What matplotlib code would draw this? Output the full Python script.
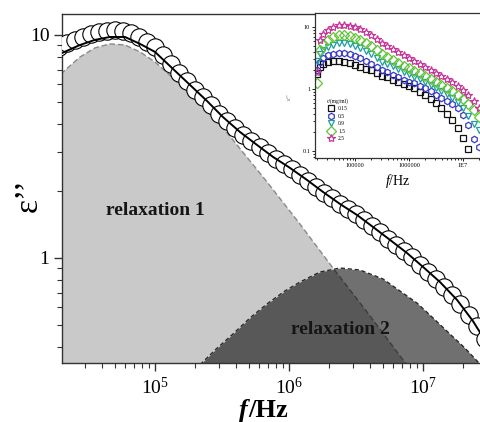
import numpy as np
import matplotlib
matplotlib.use("Agg")
import matplotlib.pyplot as plt
from matplotlib.ticker import LogLocator, LogFormatterMathtext, NullFormatter, FuncFormatter

plt.rcParams["font.family"] = ["Liberation Serif", "DejaVu Serif"]
plt.rcParams["mathtext.fontset"] = "custom"
plt.rcParams["mathtext.rm"] = "Liberation Serif"
plt.rcParams["mathtext.it"] = "Liberation Serif:italic"
plt.rcParams["mathtext.bf"] = "Liberation Serif:bold"

# ---------------------------------------------------------------- data (log10 values)
# measured points (open circles)
data_logf = [4.28, 4.34, 4.40, 4.46, 4.52, 4.58, 4.64, 4.70, 4.76, 4.82, 4.88, 4.94,
             5.00, 5.06, 5.12, 5.18, 5.24, 5.30, 5.36, 5.42, 5.48, 5.54, 5.60, 5.66,
             5.72, 5.78, 5.84, 5.90, 5.96, 6.02, 6.08, 6.14, 6.20, 6.26, 6.32, 6.38,
             6.44, 6.50, 6.56, 6.62, 6.68, 6.74, 6.80, 6.86, 6.92, 6.98, 7.04, 7.10,
             7.16, 7.22, 7.28, 7.34, 7.40, 7.46]
data_loge = [0.945, 0.963, 0.978, 0.992, 1.003, 1.012, 1.018, 1.021, 1.020, 1.008, 0.992, 0.970,
             0.948, 0.910, 0.870, 0.830, 0.792, 0.755, 0.720, 0.685, 0.646, 0.614, 0.583, 0.553,
             0.526, 0.499, 0.471, 0.446, 0.422, 0.398, 0.373, 0.347, 0.320, 0.293, 0.268, 0.242,
             0.219, 0.196, 0.170, 0.142, 0.115, 0.087, 0.060, 0.032, 0.003, -0.030, -0.062, -0.094,
             -0.128, -0.166, -0.207, -0.255, -0.305, -0.365]

# total fit (solid line)
fit_logf = [4.306, 4.440, 4.552, 4.664, 4.776, 4.888, 5.000, 5.134, 5.261, 5.388, 5.507,
            5.634, 5.761, 5.881, 6.007, 6.134, 6.254, 6.381, 6.507, 6.627, 6.754, 6.881,
            7.000, 7.127, 7.254, 7.373, 7.433, 7.48]
fit_loge = [0.919, 0.955, 0.978, 0.991, 0.991, 0.960, 0.924, 0.848, 0.776, 0.704, 0.632,
            0.565, 0.507, 0.453, 0.404, 0.350, 0.296, 0.242, 0.193, 0.139, 0.081, 0.022,
            -0.040, -0.108, -0.188, -0.283, -0.341, -0.39]

# relaxation 1
r1_logf = [4.25, 4.306, 4.440, 4.552, 4.664, 4.776, 4.888, 5.000, 5.134, 5.261, 5.388,
           5.507, 5.582, 5.836, 6.082, 6.328, 6.582, 6.828, 6.978]
r1_loge = [0.80, 0.830, 0.901, 0.942, 0.960, 0.955, 0.924, 0.879, 0.807, 0.735, 0.659,
           0.583, 0.529, 0.341, 0.152, -0.045, -0.242, -0.439, -0.556]

# relaxation 2
r2_logf = [5.30, 5.358, 5.448, 5.582, 5.709, 5.836, 5.970, 6.082, 6.231, 6.381, 6.530,
           6.701, 6.828, 6.955, 7.075, 7.201, 7.313, 7.410, 7.47]
r2_loge = [-0.50, -0.466, -0.413, -0.341, -0.269, -0.206, -0.148, -0.108, -0.063, -0.045, -0.054,
           -0.094, -0.148, -0.202, -0.269, -0.341, -0.404, -0.466, -0.50]

# inset: c/(mg/ml) series
ins_logf = [4.30, 4.35, 4.40, 4.50, 4.60, 4.70, 4.80, 4.90, 5.00, 5.10, 5.20, 5.30, 5.40,
            5.50, 5.60, 5.70, 5.80, 5.90, 6.00, 6.10, 6.20, 6.30, 6.40, 6.50, 6.60, 6.70,
            6.80, 6.90, 7.00, 7.10, 7.20, 7.30]
conc_labels = ["0.15", "0.5", "0.9", "1.5", "2.5"]
ins_c015 = [0.25, 0.35, 0.40, 0.44, 0.45, 0.45, 0.44, 0.42, 0.39, 0.36, 0.33, 0.30, 0.26,
            0.21, 0.19, 0.15, 0.12, 0.08, 0.05, 0.01, -0.05, -0.10, -0.16, -0.23, -0.31, -0.40,
            -0.50, -0.63, -0.79, -0.97]
ins_c05 = [0.31, 0.44, 0.50, 0.55, 0.56, 0.58, 0.58, 0.56, 0.53, 0.50, 0.45, 0.40, 0.35,
           0.31, 0.27, 0.23, 0.19, 0.15, 0.12, 0.09, 0.05, 0.01, -0.04, -0.09, -0.14, -0.19,
           -0.24, -0.31, -0.42, -0.58, -0.80, -0.94]
ins_c09 = [0.45, 0.56, 0.63, 0.68, 0.71, 0.74, 0.74, 0.73, 0.69, 0.66, 0.61, 0.56, 0.50,
           0.44, 0.40, 0.37, 0.32, 0.27, 0.24, 0.19, 0.16, 0.11, 0.06, 0.02, -0.03, -0.08,
           -0.15, -0.21, -0.30, -0.44, -0.56, -0.66]
ins_c15 = [0.10, 0.63, 0.73, 0.79, 0.84, 0.87, 0.87, 0.85, 0.82, 0.79, 0.74, 0.69, 0.63,
           0.56, 0.52, 0.47, 0.42, 0.37, 0.34, 0.29, 0.26, 0.21, 0.16, 0.11, 0.06, 0.02,
           -0.03, -0.10, -0.16, -0.24, -0.34, -0.45]
ins_c25 = [0.27, 0.79, 0.89, 0.95, 1.00, 1.03, 1.03, 1.02, 1.00, 0.97, 0.92, 0.87, 0.81,
           0.74, 0.69, 0.65, 0.60, 0.55, 0.50, 0.45, 0.40, 0.35, 0.31, 0.26, 0.21, 0.16,
           0.11, 0.05, -0.02, -0.10, -0.19, -0.31]
ins_series = [ins_c015, ins_c05, ins_c09, ins_c15, ins_c25]
ins_markers = ["s", "h", "v", "D", "*"]
ins_colors = ["#111111", "#3838c8", "#1a9e9e", "#62c43a", "#c8389a"]


def p(v):
    return 10 ** np.asarray(v)


# ---------------------------------------------------------------- figure
W, H = 481, 422
fig = plt.figure(figsize=(W / 100, H / 100), dpi=100)
ax = fig.add_axes([62 / W, 1 - 363 / H, 1 - 62 / W, (363 - 14) / H])
ax.set_xscale("log")
ax.set_yscale("log")
ax.set_xlim(10 ** 4.306, 10 ** 7.433)
ax.set_ylim(10 ** -0.471, 10 ** 1.094)

floor = np.full(len(r1_logf), 0.05)
ax.fill_between(p(r1_logf), floor, p(r1_loge), color="#c9c9c9", lw=0, zorder=1)
ax.plot(p(r1_logf), p(r1_loge), color="#8a8a8a", ls=(0, (4, 2)), lw=1.0, zorder=1.5)
floor2 = np.full(len(r2_logf), 0.05)
ax.fill_between(p(r2_logf), floor2, p(r2_loge), color="black", alpha=0.56, lw=0, zorder=2)
ax.plot(p(r2_logf), p(r2_loge), color="#2a2a2a", ls=(0, (3, 2)), lw=1.0, zorder=2.5)

ax.plot(p(data_logf), p(data_loge), "o", ms=12.5, mfc="white", mec="black", mew=0.8, zorder=3)
ax.plot(p(fit_logf), p(fit_loge), "-", color="black", lw=1.4, zorder=4)

ax.text(10 ** 5.0, 10 ** 0.211, "relaxation 1", fontsize=14, fontweight="bold",
        ha="center", va="center", color="#151515", zorder=5)
ax.text(10 ** 6.385, 10 ** -0.323, "relaxation 2", fontsize=14, fontweight="bold",
        ha="center", va="center", color="#151515", zorder=5)

ax.spines["right"].set_visible(False)
for s in ["left", "bottom", "top"]:
    ax.spines[s].set_linewidth(1.0)
    ax.spines[s].set_color("#333333")
ax.tick_params(which="both", top=False, right=False, direction="out", color="#333333")
ax.tick_params(which="major", length=6, width=1.0, labelsize=14, pad=3)
ax.tick_params(which="minor", length=3.5, width=0.8)
ax.tick_params(axis="x", which="major", pad=4)
ax.xaxis.set_major_locator(LogLocator(base=10, numticks=10))
ax.xaxis.set_major_formatter(LogFormatterMathtext())
ax.yaxis.set_major_locator(LogLocator(base=10, numticks=10))
ax.yaxis.set_major_formatter(FuncFormatter(lambda v, _: f"{v:g}"))
ax.xaxis.set_minor_formatter(NullFormatter())
ax.yaxis.set_minor_formatter(NullFormatter())

fig.text(28 / W, 1 - 195 / H, "ε’’", rotation=90, fontsize=24, ha="center", va="center")
fig.text(248 / W, 1 - 417 / H, "f", fontsize=19, fontweight="bold", fontstyle="italic",
         ha="right", va="baseline")
fig.text(248 / W, 1 - 417 / H, "/Hz", fontsize=19, fontweight="bold", ha="left", va="baseline")

# ---------------------------------------------------------------- inset
ins = fig.add_axes([315 / W, 1 - 158 / H, 1 - 315 / W, (158 - 13) / H])
ins.set_xscale("log")
ins.set_yscale("log")
ins.set_xlim(10 ** 4.259, 10 ** 7.333)
ins.set_ylim(10 ** -1.113, 10 ** 1.226)
for vals, mk, col, lab in zip(ins_series, ins_markers, ins_colors, conc_labels):
    ins.plot(p(ins_logf[:len(vals)]), p(vals), mk, ms=4.6 if mk != "*" else 6.0,
             mfc="none", mec=col, mew=0.9, ls="none", label=lab)
ins.set_xticks([1e5, 1e6, 1e7], ["100000", "1000000", "1E7"])
ins.set_yticks([0.1, 1, 10], ["0.1", "1", "10"])
ins.xaxis.set_minor_formatter(NullFormatter())
ins.yaxis.set_minor_formatter(NullFormatter())
ins.tick_params(which="both", labelsize=4.5, length=2, width=0.6, pad=1.5, direction="out")
ins.tick_params(which="minor", length=1.2)
for s in ins.spines.values():
    s.set_linewidth(0.9)
    s.set_color("#333333")
ins.set_xlabel("$f$/Hz", fontsize=10, labelpad=3)
fig.text(289 / W, 1 - 96 / H, "ε’’", rotation=90, fontsize=5, ha="center", va="center",
         color="#5a5a8a")
ins.legend(title="c/(mg/ml)", loc="upper left", bbox_to_anchor=(0.05, 0.44), frameon=False,
           fontsize=4, title_fontsize=4, handlelength=1.0, handletextpad=0.8,
           labelspacing=0.45, borderpad=0.2, markerscale=1.0)

fig.savefig("out.png", dpi=100)
